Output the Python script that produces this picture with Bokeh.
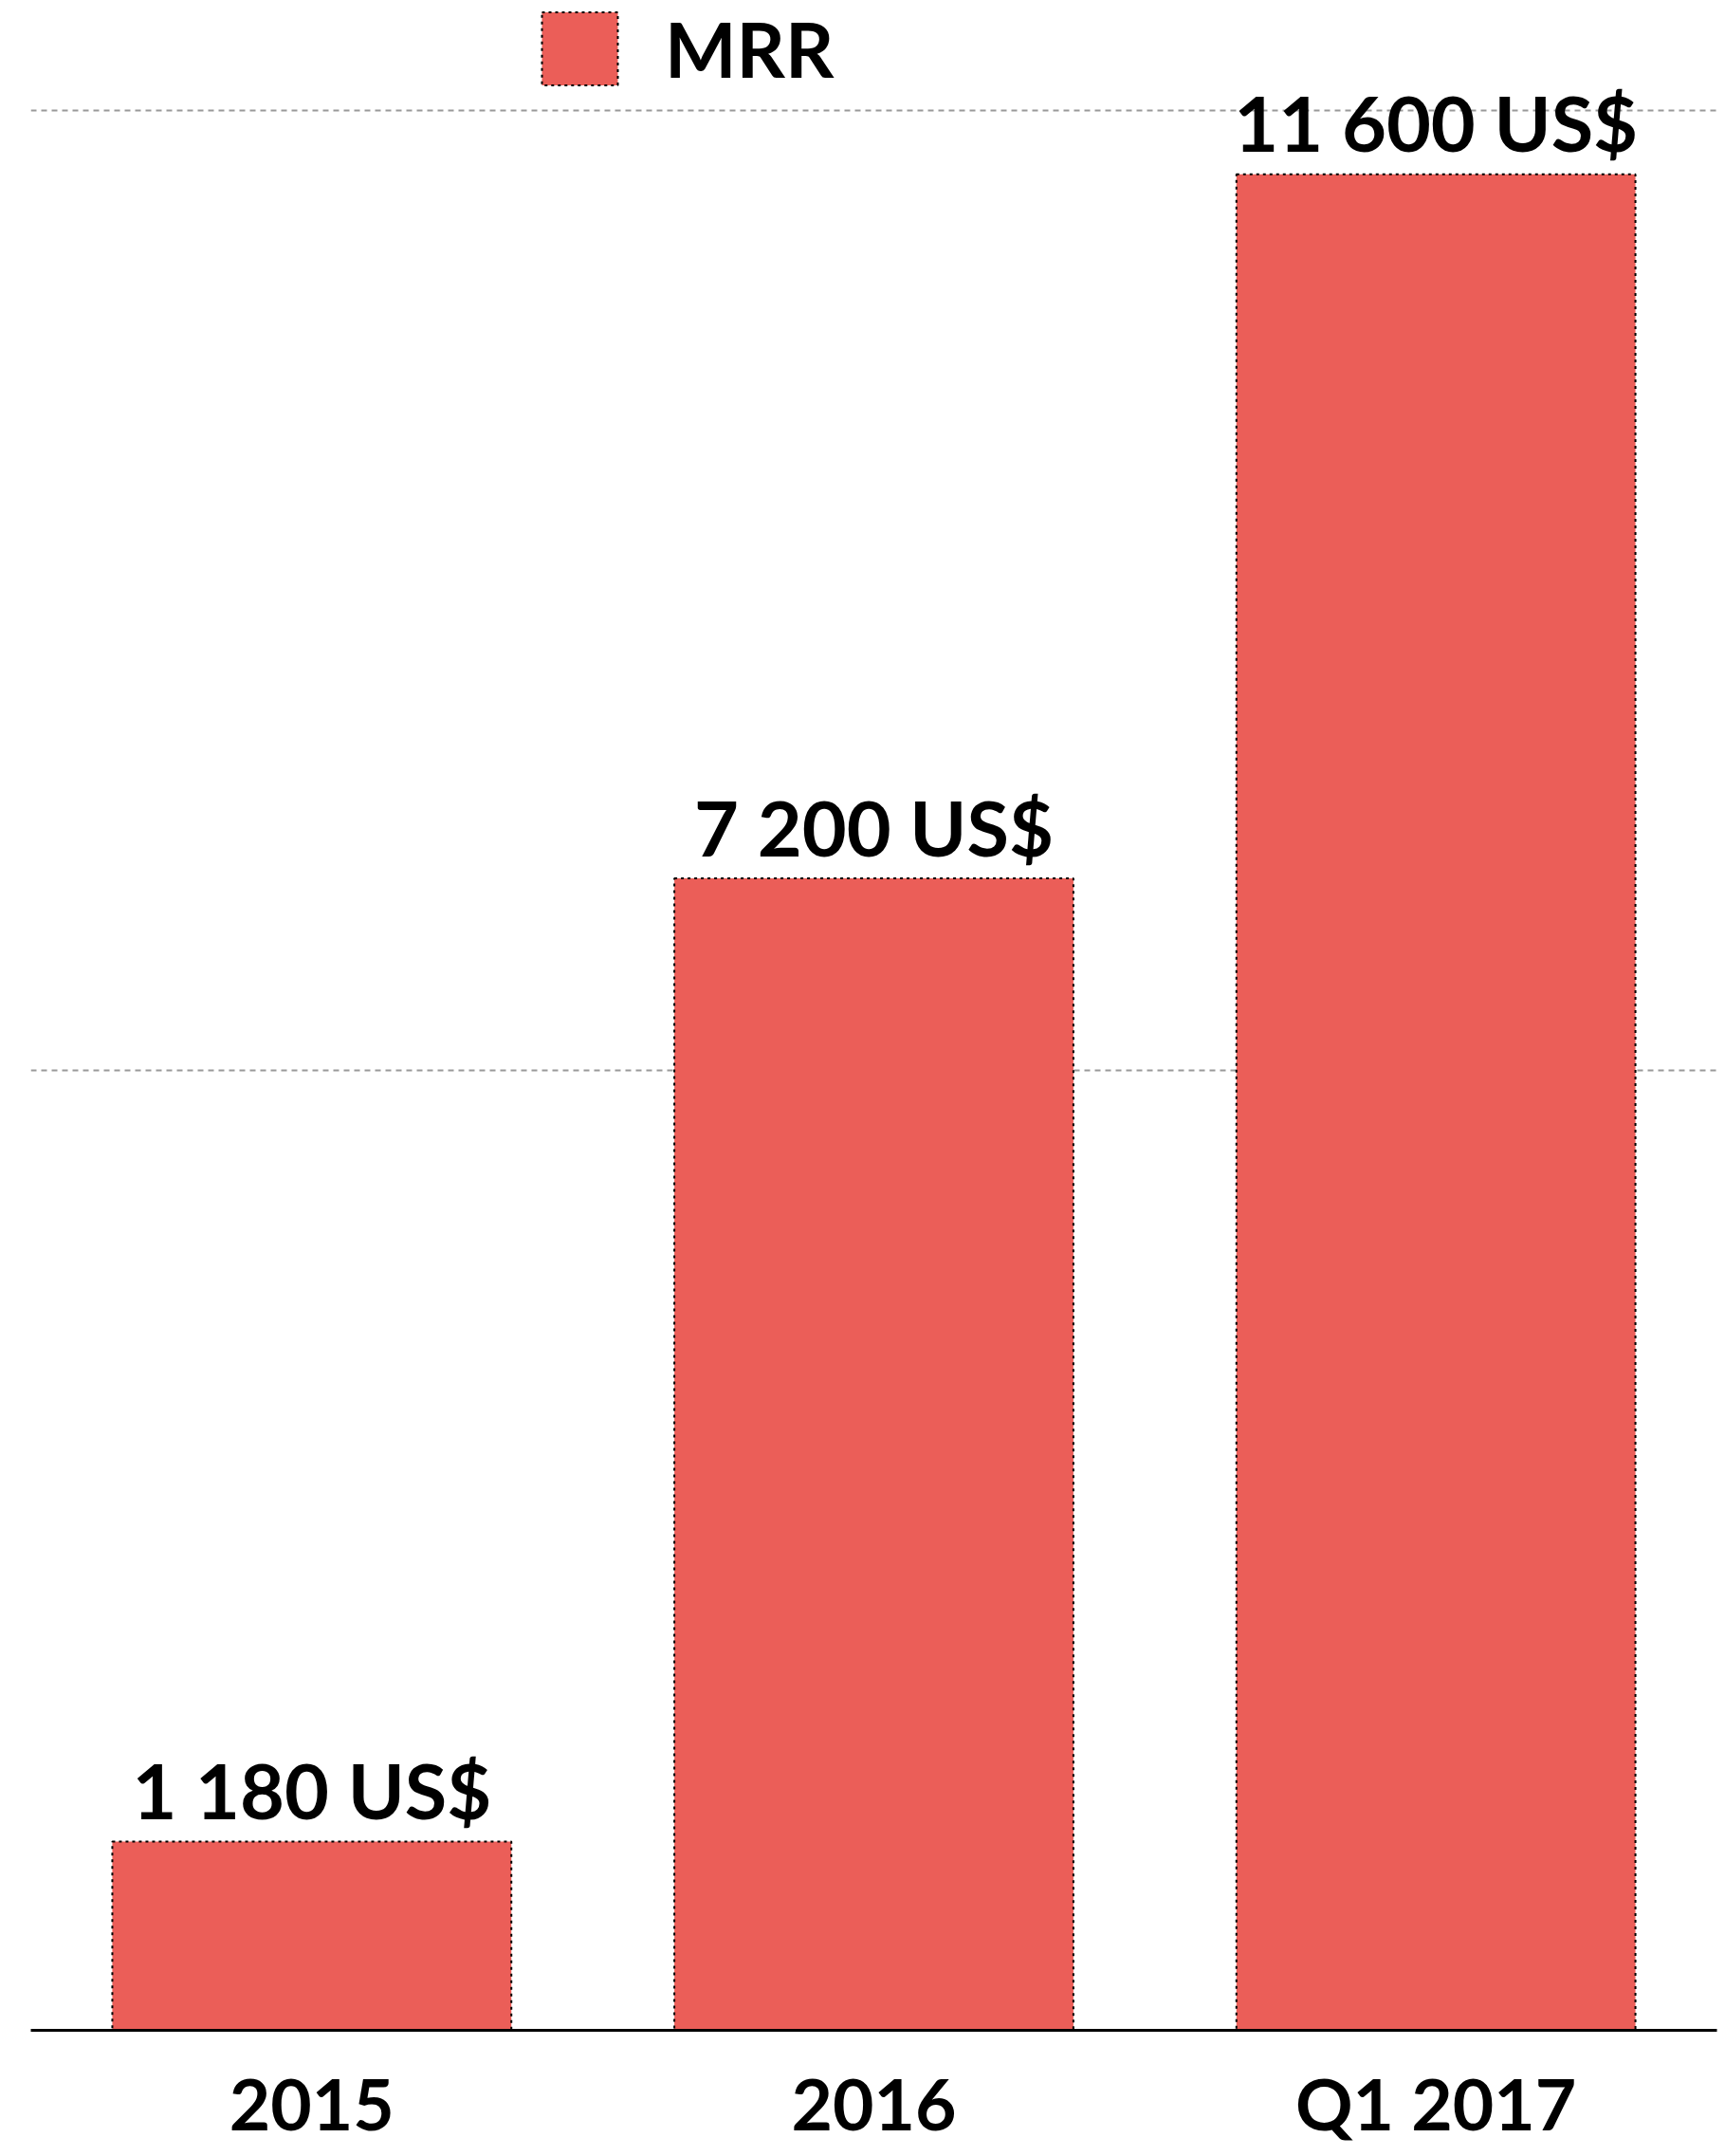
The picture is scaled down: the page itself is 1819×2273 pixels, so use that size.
from bokeh.plotting import figure
from bokeh.models import FactorRange, Range1d, FixedTicker, Legend, LegendItem, ColumnDataSource
from bokeh.core.properties import value
from bokeh.embed import file_html
from bokeh.resources import INLINE

# ---- data ----
categories = ["2015", "2016", "Q1 2017"]
mrr = [1180, 7200, 11600]
value_labels = ["1 180 US$", "7 200 US$", "11 600 US$"]
grid_values = [6000, 12000]
series_name = "MRR"

BAR = "#EB5E58"
FONT = "Lato"

src = ColumnDataSource(dict(cat=categories, mrr=mrr, label=value_labels))

p = figure(
    x_range=FactorRange(*categories),
    y_range=Range1d(0, 12687),
    width=1819, height=2273,
    output_backend="svg", toolbar_location=None,
    min_border_left=32, min_border_right=9,
    min_border_top=0, min_border_bottom=133,
)
p.outline_line_color = None
p.background_fill_color = "white"

bars = p.vbar(x="cat", top="mrr", width=0.71, source=src,
              fill_color=BAR, line_color="black", line_width=2, line_dash="3 4")

p.text(x="cat", y="mrr", text="label", source=src,
       text_align="center", text_baseline="alphabetic", y_offset=-55,
       text_font=value(FONT), text_font_style="bold", text_font_size="81px",
       text_color="black")

# axes
p.yaxis.visible = False
ax = p.xaxis[0]
ax.axis_line_color = "black"
ax.axis_line_width = 3
ax.major_tick_line_color = None
ax.minor_tick_line_color = None
ax.major_tick_out = 0
ax.major_tick_in = 0
ax.major_label_standoff = 31
ax.major_label_text_font = FONT
ax.major_label_text_font_style = "bold"
ax.major_label_text_font_size = "75px"
ax.major_label_text_color = "black"

# grid
p.xgrid.visible = False
p.ygrid.ticker = FixedTicker(ticks=grid_values)
p.ygrid.grid_line_color = "#999999"
p.ygrid.grid_line_width = 2
p.ygrid.grid_line_dash = "6 5"

# legend
legend = Legend(items=[LegendItem(label=series_name, renderers=[bars])],
                location=(529, 2041), orientation="horizontal",
                padding=0, margin=0, spacing=0,
                border_line_color=None, background_fill_alpha=0,
                glyph_width=100, glyph_height=96, label_height=96,
                label_standoff=40,
                label_text_font=FONT, label_text_font_style="bold",
                label_text_font_size="80px", label_text_color="black")
p.add_layout(legend)

open("out.html", "w").write(file_html(p, INLINE))
